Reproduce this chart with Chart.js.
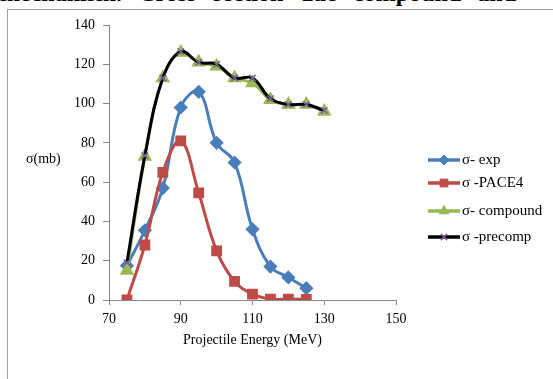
<!DOCTYPE html>
<html><head><meta charset="utf-8">
<script src="https://cdn.jsdelivr.net/npm/chart.js@4/dist/chart.umd.min.js"></script>
<style>
html,body{margin:0;padding:0;background:#fff;overflow:hidden;}
#wrap{position:relative;width:553px;height:379px;overflow:hidden;}
#toptext{position:absolute;left:0;top:-19px;width:516px;font:bold 24px "Liberation Serif",serif;line-height:24px;text-align:justify;text-align-last:justify;color:#000;}
#box{position:absolute;left:7px;top:9px;width:700px;height:500px;border:1px solid #a0a0a0;}
#ylab{position:absolute;left:26px;top:151px;font:14px "Liberation Serif",serif;color:#000;}
#c{position:absolute;left:0;top:0;}
</style></head><body>
<div id="wrap">
<div id="toptext">mechanism. Cross section due compound and</div>
<div id="box"></div>
<canvas id="c" width="553" height="379"></canvas>
<div id="ylab">σ(mb)</div>
</div>
<script>
const energies = [75,80,85,90,95,100,105,110,115,120,125,130];
const sigmaExp = [17.5,35.5,57,98,106,80,70,36,17,11.5,6];
const sigmaPace4 = [0,28,65,81,54.5,25,9.5,3,0.5,0.5,0.3];
const sigmaCompound = [15,73,113,126,121,119,113,110.5,102,99.5,99.5,96];
const sigmaPrecomp = [19,73.5,113,126.5,121,120,113,113,102.5,99.5,99.5,96.5];
const seriesNames = ["σ- exp","σ -PACE4","σ- compound","σ -precomp"];
const xTicks = [70,90,110,130,150];

function pts(vals){ return vals.map((v,i)=>({x:energies[i],y:v})); }

const legendYs = [160,183,211,237];
const legendPlugin = {
  id:'xlLegend',
  afterDraw(chart){
    const ctx = chart.ctx;
    ctx.save();
    chart.data.datasets.forEach((ds,i)=>{
      const y = legendYs[i];
      ctx.strokeStyle = ds.borderColor; ctx.lineWidth = 3.5; ctx.lineCap='butt';
      ctx.beginPath(); ctx.moveTo(428,y); ctx.lineTo(460,y); ctx.stroke();
      ctx.fillStyle = ds.pointBackgroundColor; ctx.strokeStyle = ds.pointBorderColor; ctx.lineWidth = ds.pointBorderWidth||1;
      Chart.helpers.drawPoint(ctx,{pointStyle:ds.pointStyle,rotation:0,radius:ds.pointRadius,borderWidth:ds.pointBorderWidth||1}, 444, y);
      ctx.fillStyle = '#000'; ctx.font = '15px "Liberation Serif", serif'; ctx.textBaseline='middle'; ctx.textAlign='left';
      ctx.fillText(ds.label, 462, y+0.5);
    });
    ctx.restore();
  }
};

new Chart(document.getElementById('c'),{
  type:'line',
  data:{datasets:[
    {label:seriesNames[0],data:pts(sigmaExp),borderColor:'#4a7ebb',backgroundColor:'#4a7ebb',pointBackgroundColor:'#4a7ebb',pointBorderColor:'#4a7ebb',pointStyle:'rectRot',pointRadius:5,borderWidth:3,tension:0.4,order:3},
    {label:seriesNames[1],data:pts(sigmaPace4),borderColor:'#be4b48',backgroundColor:'#be4b48',pointBackgroundColor:'#be4b48',pointBorderColor:'#be4b48',pointStyle:'rect',pointRadius:5.5,borderWidth:3,tension:0.4,order:2},
    {label:seriesNames[2],data:pts(sigmaCompound),borderColor:'#98b954',backgroundColor:'#98b954',pointBackgroundColor:'#98b954',pointBorderColor:'#98b954',pointStyle:'triangle',pointRadius:5.5,borderWidth:3,tension:0.4,order:1},
    {label:seriesNames[3],data:pts(sigmaPrecomp),borderColor:'#000000',backgroundColor:'#000',pointBackgroundColor:'#7d60a0',pointBorderColor:'#7d60a0',pointBorderWidth:1.5,pointStyle:'crossRot',pointRadius:4.5,borderWidth:3,tension:0.4,order:0}
  ]},
  options:{
    responsive:false,animation:false,
    layout:{padding:{left:49,top:25,right:157,bottom:30}},
    plugins:{legend:{display:false},tooltip:{enabled:false}},
    scales:{
      x:{type:'linear',min:70,max:150,
        afterBuildTicks(s){ s.ticks = xTicks.map(v=>({value:v})); },
        afterFit(s){ s.height = 49; },
        grid:{drawOnChartArea:false,tickLength:5,color:'#868686'},
        border:{color:'#868686'},
        ticks:{color:'#000',padding:6,font:{family:'"Liberation Serif", serif',size:14}},
        title:{display:true,text:'Projectile Energy (MeV)',color:'#000',padding:{top:0,bottom:0},font:{family:'"Liberation Serif", serif',size:14}}
      },
      y:{min:0,max:140,
        ticks:{stepSize:20,color:'#000',padding:8,font:{family:'"Liberation Serif", serif',size:14}},
        afterFit(s){ s.width = 60; },
        grid:{drawOnChartArea:false,tickLength:6,color:'#868686'},
        border:{color:'#868686'}
      }
    }
  },
  plugins:[legendPlugin]
});
</script>
</body></html>
